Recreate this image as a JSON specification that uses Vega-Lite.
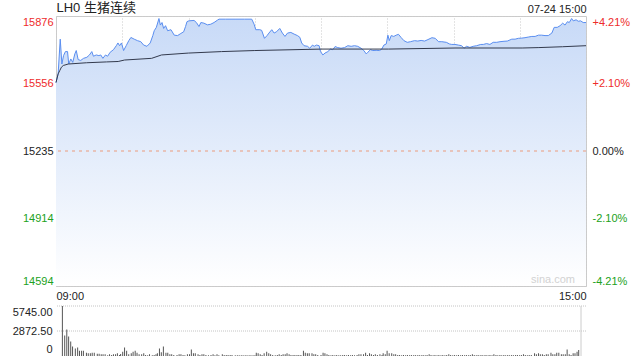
{
  "$schema": "https://vega.github.io/schema/vega-lite/v6.json",
  "background": "white",
  "padding": {"left": 12, "top": 0, "right": 0, "bottom": 0},
  "config": {
    "font": "Liberation Sans, Noto Sans CJK SC",
    "view": {"stroke": null},
    "axis": {"labelFont": "Liberation Sans, Noto Sans CJK SC", "labelFontSize": 11, "labelColor": "#222222", "ticks": false, "domain": false, "title": null, "labelOverlap": false}
  },
  "datasets": {
    "price": [
      {"t": 0, "p": 15560}, {"t": 0.9, "p": 15601}, {"t": 1.8, "p": 15766}, {"t": 2.5, "p": 15648}, {"t": 3.2, "p": 15688},
      {"t": 4.0, "p": 15707}, {"t": 4.9, "p": 15707}, {"t": 5.4, "p": 15648}, {"t": 6.3, "p": 15672}, {"t": 7.1, "p": 15656},
      {"t": 8.0, "p": 15696}, {"t": 8.6, "p": 15712}, {"t": 9.4, "p": 15669}, {"t": 10.5, "p": 15665}, {"t": 11.7, "p": 15675},
      {"t": 13.1, "p": 15680}, {"t": 14.2, "p": 15691}, {"t": 15.2, "p": 15707}, {"t": 15.9, "p": 15685}, {"t": 17.1, "p": 15691},
      {"t": 18.2, "p": 15688}, {"t": 19.0, "p": 15691}, {"t": 19.9, "p": 15675}, {"t": 21.0, "p": 15691}, {"t": 21.9, "p": 15685},
      {"t": 23.0, "p": 15704}, {"t": 24.4, "p": 15716}, {"t": 25.6, "p": 15735}, {"t": 26.3, "p": 15748}, {"t": 27.0, "p": 15735},
      {"t": 27.8, "p": 15748}, {"t": 28.7, "p": 15712}, {"t": 29.8, "p": 15735}, {"t": 30.9, "p": 15759}, {"t": 31.8, "p": 15774},
      {"t": 33.2, "p": 15766}, {"t": 34.6, "p": 15759}, {"t": 36.0, "p": 15754}, {"t": 37.2, "p": 15738}, {"t": 38.6, "p": 15732},
      {"t": 40.0, "p": 15748}, {"t": 41.1, "p": 15783}, {"t": 41.7, "p": 15806}, {"t": 42.6, "p": 15822}, {"t": 43.7, "p": 15864},
      {"t": 44.3, "p": 15833}, {"t": 45.0, "p": 15845}, {"t": 45.7, "p": 15817}, {"t": 46.5, "p": 15830}, {"t": 47.4, "p": 15806},
      {"t": 48.8, "p": 15811}, {"t": 50.2, "p": 15785}, {"t": 51.6, "p": 15783}, {"t": 53.0, "p": 15793}, {"t": 54.2, "p": 15801},
      {"t": 55.0, "p": 15826}, {"t": 55.6, "p": 15849}, {"t": 56.4, "p": 15853}, {"t": 58.6, "p": 15855}, {"t": 59.6, "p": 15845},
      {"t": 60.7, "p": 15826}, {"t": 61.5, "p": 15845}, {"t": 62.8, "p": 15842}, {"t": 64.3, "p": 15834}, {"t": 65.7, "p": 15837},
      {"t": 67.1, "p": 15845}, {"t": 68.5, "p": 15856}, {"t": 69.2, "p": 15861}, {"t": 72, "p": 15861}, {"t": 76, "p": 15861},
      {"t": 80, "p": 15861}, {"t": 83.1, "p": 15861}, {"t": 84.1, "p": 15837}, {"t": 84.8, "p": 15811}, {"t": 86.5, "p": 15811},
      {"t": 87.3, "p": 15808}, {"t": 88.5, "p": 15770}, {"t": 89.6, "p": 15783}, {"t": 90.4, "p": 15795}, {"t": 91.6, "p": 15811},
      {"t": 92.6, "p": 15795}, {"t": 93.6, "p": 15801}, {"t": 95.0, "p": 15817}, {"t": 96.1, "p": 15795}, {"t": 97.2, "p": 15779},
      {"t": 98.3, "p": 15795}, {"t": 99.7, "p": 15798}, {"t": 101.1, "p": 15790}, {"t": 102.5, "p": 15783}, {"t": 103.5, "p": 15775},
      {"t": 104.3, "p": 15748}, {"t": 105.3, "p": 15735}, {"t": 106.8, "p": 15732}, {"t": 107.7, "p": 15723}, {"t": 108.9, "p": 15738},
      {"t": 109.6, "p": 15732}, {"t": 110.6, "p": 15738}, {"t": 111.7, "p": 15735}, {"t": 112.3, "p": 15707}, {"t": 113.3, "p": 15691},
      {"t": 114.2, "p": 15700}, {"t": 115.4, "p": 15707}, {"t": 116.5, "p": 15719}, {"t": 117.5, "p": 15716}, {"t": 118.5, "p": 15731},
      {"t": 119.6, "p": 15726}, {"t": 121.0, "p": 15723}, {"t": 122.5, "p": 15726}, {"t": 123.9, "p": 15735}, {"t": 125.3, "p": 15732},
      {"t": 126.7, "p": 15735}, {"t": 128.1, "p": 15732}, {"t": 129.5, "p": 15723}, {"t": 130.7, "p": 15712}, {"t": 131.7, "p": 15696},
      {"t": 132.4, "p": 15704}, {"t": 133.5, "p": 15716}, {"t": 134.5, "p": 15712}, {"t": 135.9, "p": 15713}, {"t": 137.4, "p": 15712},
      {"t": 138.3, "p": 15719}, {"t": 139.2, "p": 15738}, {"t": 140.2, "p": 15743}, {"t": 140.9, "p": 15785}, {"t": 141.5, "p": 15759},
      {"t": 142.3, "p": 15783}, {"t": 143.4, "p": 15779}, {"t": 144.4, "p": 15785}, {"t": 145.4, "p": 15789}, {"t": 146.5, "p": 15774},
      {"t": 147.7, "p": 15759}, {"t": 149.1, "p": 15751}, {"t": 150.5, "p": 15754}, {"t": 152.2, "p": 15759}, {"t": 153.6, "p": 15757},
      {"t": 155.0, "p": 15760}, {"t": 156.5, "p": 15757}, {"t": 157.9, "p": 15764}, {"t": 159.6, "p": 15773}, {"t": 161.0, "p": 15770},
      {"t": 162.4, "p": 15754}, {"t": 163.8, "p": 15754}, {"t": 165.7, "p": 15751}, {"t": 167.1, "p": 15743}, {"t": 168.0, "p": 15741},
      {"t": 169.4, "p": 15741}, {"t": 170.8, "p": 15738}, {"t": 172.2, "p": 15735}, {"t": 173.2, "p": 15723}, {"t": 174.3, "p": 15732},
      {"t": 175.7, "p": 15727}, {"t": 177.1, "p": 15732}, {"t": 178.6, "p": 15735}, {"t": 180.3, "p": 15741}, {"t": 181.4, "p": 15741},
      {"t": 182.8, "p": 15745}, {"t": 184.2, "p": 15741}, {"t": 185.6, "p": 15751}, {"t": 187.1, "p": 15751}, {"t": 188.5, "p": 15754},
      {"t": 190.2, "p": 15756}, {"t": 191.6, "p": 15757}, {"t": 193.5, "p": 15766}, {"t": 194.9, "p": 15766}, {"t": 196.3, "p": 15770},
      {"t": 197.7, "p": 15771}, {"t": 199.1, "p": 15773}, {"t": 200.5, "p": 15776}, {"t": 202.0, "p": 15779}, {"t": 203.4, "p": 15779},
      {"t": 204.8, "p": 15785}, {"t": 206.2, "p": 15785}, {"t": 207.6, "p": 15783}, {"t": 209.0, "p": 15783}, {"t": 210.5, "p": 15795},
      {"t": 211.5, "p": 15822}, {"t": 212.8, "p": 15822}, {"t": 214.0, "p": 15830}, {"t": 215.1, "p": 15842}, {"t": 216.1, "p": 15833},
      {"t": 217.1, "p": 15849}, {"t": 217.9, "p": 15845}, {"t": 218.9, "p": 15864}, {"t": 219.6, "p": 15853}, {"t": 220.8, "p": 15858},
      {"t": 221.7, "p": 15851}, {"t": 222.7, "p": 15853}, {"t": 223.8, "p": 15845}, {"t": 225, "p": 15845}
    ],
    "avg": [
      {"t": 0, "a": 15560}, {"t": 0.9, "a": 15601}, {"t": 1.6, "a": 15617}, {"t": 2.3, "a": 15633}, {"t": 3.1, "a": 15641},
      {"t": 5.2, "a": 15648}, {"t": 13, "a": 15654}, {"t": 21.5, "a": 15658}, {"t": 26.4, "a": 15660}, {"t": 29.1, "a": 15667},
      {"t": 40.6, "a": 15675}, {"t": 44.8, "a": 15691}, {"t": 56.2, "a": 15700}, {"t": 70.3, "a": 15707}, {"t": 84.4, "a": 15712},
      {"t": 112.9, "a": 15719}, {"t": 141.2, "a": 15719}, {"t": 169.4, "a": 15724}, {"t": 197.9, "a": 15724}, {"t": 205, "a": 15726},
      {"t": 215, "a": 15730}, {"t": 225, "a": 15735}
    ],
    "volgrid": [{"g": 2872.5}, {"g": 5745}],
    "vol": [
      {"t": 0.6, "v": 5745}, {"t": 1.6, "v": 2352}, {"t": 2.5, "v": 3046}, {"t": 3.3, "v": 2236}, {"t": 4.2, "v": 1658},
      {"t": 5.0, "v": 1080}, {"t": 6.2, "v": 848}, {"t": 7.2, "v": 964}, {"t": 8.0, "v": 617}, {"t": 8.9, "v": 617},
      {"t": 9.7, "v": 617}, {"t": 11.0, "v": 386}, {"t": 11.8, "v": 308}, {"t": 12.7, "v": 308}, {"t": 13.5, "v": 386},
      {"t": 14.4, "v": 386}, {"t": 15.7, "v": 270}, {"t": 16.5, "v": 270}, {"t": 17.4, "v": 193}, {"t": 18.2, "v": 193},
      {"t": 19.1, "v": 193}, {"t": 20.2, "v": 77}, {"t": 21.0, "v": 193}, {"t": 21.9, "v": 116}, {"t": 22.7, "v": 193},
      {"t": 23.6, "v": 193}, {"t": 24.4, "v": 308}, {"t": 25.3, "v": 116}, {"t": 25.8, "v": 231}, {"t": 26.7, "v": 501},
      {"t": 27.5, "v": 964}, {"t": 28.4, "v": 617}, {"t": 29.3, "v": 193}, {"t": 30.4, "v": 308}, {"t": 31.2, "v": 501},
      {"t": 32.1, "v": 617}, {"t": 32.9, "v": 386}, {"t": 33.8, "v": 193}, {"t": 34.9, "v": 193}, {"t": 35.8, "v": 308},
      {"t": 36.6, "v": 116}, {"t": 37.5, "v": 77}, {"t": 38.3, "v": 193}, {"t": 39.5, "v": 77}, {"t": 40.3, "v": 116},
      {"t": 41.1, "v": 193}, {"t": 41.7, "v": 308}, {"t": 42.6, "v": 848}, {"t": 43.4, "v": 424}, {"t": 44.3, "v": 1080},
      {"t": 45.4, "v": 386}, {"t": 46.2, "v": 386}, {"t": 47.1, "v": 193}, {"t": 47.9, "v": 193}, {"t": 48.8, "v": 116},
      {"t": 50.2, "v": 116}, {"t": 51.1, "v": 193}, {"t": 51.9, "v": 193}, {"t": 52.8, "v": 116}, {"t": 53.6, "v": 77},
      {"t": 54.7, "v": 193}, {"t": 55.6, "v": 193}, {"t": 56.4, "v": 733}, {"t": 57.3, "v": 308}, {"t": 58.1, "v": 308},
      {"t": 59.3, "v": 193}, {"t": 60.1, "v": 116}, {"t": 61.0, "v": 193}, {"t": 61.8, "v": 193}, {"t": 62.7, "v": 116},
      {"t": 63.8, "v": 77}, {"t": 64.9, "v": 116}, {"t": 65.8, "v": 193}, {"t": 66.6, "v": 77}, {"t": 67.5, "v": 193},
      {"t": 68.3, "v": 77}, {"t": 69.8, "v": 193}, {"t": 70.6, "v": 116}, {"t": 71.5, "v": 116}, {"t": 72.3, "v": 116},
      {"t": 73.2, "v": 116}, {"t": 74.0, "v": 116}, {"t": 75.4, "v": 77}, {"t": 76.3, "v": 77}, {"t": 77.1, "v": 77},
      {"t": 78.0, "v": 77}, {"t": 78.8, "v": 77}, {"t": 79.7, "v": 77}, {"t": 80.5, "v": 77}, {"t": 81.4, "v": 77},
      {"t": 82.2, "v": 77}, {"t": 83.1, "v": 77}, {"t": 83.9, "v": 77}, {"t": 84.5, "v": 386}, {"t": 85.3, "v": 308},
      {"t": 86.2, "v": 193}, {"t": 87.0, "v": 116}, {"t": 87.9, "v": 308}, {"t": 89.0, "v": 501}, {"t": 89.9, "v": 308},
      {"t": 90.7, "v": 193}, {"t": 91.6, "v": 116}, {"t": 92.7, "v": 77}, {"t": 93.6, "v": 116}, {"t": 94.4, "v": 193},
      {"t": 95.3, "v": 116}, {"t": 96.1, "v": 193}, {"t": 97.0, "v": 193}, {"t": 97.8, "v": 308}, {"t": 98.7, "v": 193},
      {"t": 99.5, "v": 116}, {"t": 100.4, "v": 116}, {"t": 101.2, "v": 116}, {"t": 102.1, "v": 116}, {"t": 102.9, "v": 116},
      {"t": 103.8, "v": 116}, {"t": 104.9, "v": 617}, {"t": 105.7, "v": 386}, {"t": 106.6, "v": 308}, {"t": 107.4, "v": 308},
      {"t": 108.6, "v": 308}, {"t": 109.4, "v": 193}, {"t": 110.2, "v": 193}, {"t": 111.1, "v": 116},
      {"t": 112.5, "v": 116}, {"t": 113.4, "v": 386}, {"t": 114.2, "v": 308}, {"t": 115.1, "v": 193}, {"t": 115.9, "v": 116},
      {"t": 116.8, "v": 77}, {"t": 117.6, "v": 116}, {"t": 118.5, "v": 77}, {"t": 119.3, "v": 116}, {"t": 120.2, "v": 77},
      {"t": 121.0, "v": 77}, {"t": 121.9, "v": 116}, {"t": 122.7, "v": 116}, {"t": 123.6, "v": 77}, {"t": 124.4, "v": 116},
      {"t": 125.3, "v": 77}, {"t": 126.1, "v": 116}, {"t": 127.0, "v": 77}, {"t": 128.1, "v": 116}, {"t": 128.9, "v": 193},
      {"t": 129.8, "v": 193}, {"t": 130.9, "v": 193}, {"t": 131.8, "v": 386}, {"t": 132.6, "v": 116}, {"t": 133.5, "v": 308},
      {"t": 134.3, "v": 193}, {"t": 135.2, "v": 116}, {"t": 136.0, "v": 193}, {"t": 136.9, "v": 116}, {"t": 138.0, "v": 193},
      {"t": 138.9, "v": 116}, {"t": 139.4, "v": 308}, {"t": 140.3, "v": 193}, {"t": 141.1, "v": 617}, {"t": 142.0, "v": 308},
      {"t": 143.1, "v": 308}, {"t": 144.0, "v": 193}, {"t": 144.8, "v": 193}, {"t": 145.7, "v": 116}, {"t": 146.5, "v": 116},
      {"t": 147.4, "v": 77}, {"t": 148.2, "v": 116}, {"t": 149.1, "v": 77}, {"t": 149.9, "v": 116}, {"t": 150.8, "v": 77},
      {"t": 151.6, "v": 116}, {"t": 152.5, "v": 77}, {"t": 153.3, "v": 116}, {"t": 154.2, "v": 77}, {"t": 155.0, "v": 116},
      {"t": 155.9, "v": 77}, {"t": 156.7, "v": 116}, {"t": 157.6, "v": 77}, {"t": 158.4, "v": 116}, {"t": 159.3, "v": 193},
      {"t": 160.1, "v": 116}, {"t": 161.0, "v": 77}, {"t": 161.8, "v": 116}, {"t": 162.7, "v": 77}, {"t": 163.5, "v": 116},
      {"t": 164.4, "v": 77}, {"t": 165.2, "v": 116}, {"t": 166.1, "v": 77}, {"t": 166.9, "v": 116}, {"t": 167.8, "v": 193},
      {"t": 168.6, "v": 116}, {"t": 169.5, "v": 77}, {"t": 170.3, "v": 116}, {"t": 171.2, "v": 77}, {"t": 172.0, "v": 116},
      {"t": 172.9, "v": 77}, {"t": 173.7, "v": 116}, {"t": 174.6, "v": 77}, {"t": 175.4, "v": 116}, {"t": 176.3, "v": 77},
      {"t": 177.1, "v": 116}, {"t": 178.0, "v": 193}, {"t": 178.8, "v": 116}, {"t": 179.7, "v": 77}, {"t": 180.5, "v": 116},
      {"t": 181.4, "v": 77}, {"t": 182.2, "v": 116}, {"t": 183.1, "v": 77}, {"t": 183.9, "v": 116}, {"t": 184.8, "v": 77},
      {"t": 185.6, "v": 116}, {"t": 186.5, "v": 77}, {"t": 187.3, "v": 193}, {"t": 188.2, "v": 116}, {"t": 189.0, "v": 77},
      {"t": 189.9, "v": 116}, {"t": 190.7, "v": 77}, {"t": 191.6, "v": 116}, {"t": 192.4, "v": 77}, {"t": 193.3, "v": 116},
      {"t": 194.1, "v": 77}, {"t": 195.0, "v": 116}, {"t": 195.8, "v": 77}, {"t": 196.7, "v": 116}, {"t": 197.5, "v": 116},
      {"t": 198.4, "v": 77}, {"t": 199.2, "v": 116}, {"t": 200.1, "v": 193}, {"t": 200.9, "v": 116}, {"t": 201.8, "v": 77},
      {"t": 202.6, "v": 116}, {"t": 203.5, "v": 116}, {"t": 204.9, "v": 308}, {"t": 205.7, "v": 193}, {"t": 206.6, "v": 308},
      {"t": 207.4, "v": 193}, {"t": 208.3, "v": 193}, {"t": 209.1, "v": 116}, {"t": 210.0, "v": 193}, {"t": 210.8, "v": 193},
      {"t": 212.0, "v": 386}, {"t": 212.8, "v": 193}, {"t": 213.7, "v": 193}, {"t": 214.5, "v": 386}, {"t": 215.4, "v": 386},
      {"t": 216.5, "v": 193}, {"t": 217.3, "v": 193}, {"t": 218.2, "v": 193}, {"t": 219.0, "v": 733}, {"t": 219.9, "v": 193},
      {"t": 220.7, "v": 116}, {"t": 221.6, "v": 308}, {"t": 222.4, "v": 308}, {"t": 223.3, "v": 501}, {"t": 224.0, "v": 694}
    ]
  },
  "bounds": "flush",
  "spacing": 20,
  "vconcat": [
    {
      "width": 530,
      "height": 270,
      "view": {"stroke": "#cccccc"},
      "resolve": {"axis": {"x": "independent", "y": "independent"}},
      "layer": [
        {
          "data": {"name": "price"},
          "mark": {"type": "area", "opacity": 1, "color": {"gradient": "linear", "x1": 0, "y1": 0, "x2": 0, "y2": 1, "stops": [{"offset": 0, "color": "#c8daf7"}, {"offset": 1, "color": "#ffffff"}]}},
          "encoding": {
            "x": {"field": "t", "type": "quantitative", "scale": {"domain": [0, 225], "nice": false, "zero": false},
              "axis": {"orient": "top", "values": [0, 28.125, 56.25, 84.375, 112.5, 140.625, 168.75, 196.875, 225],
                "labelExpr": "datum.value == 0 ? 'LH0 生猪连续' : (datum.value == 225 ? '07-24 15:00' : '')",
                "labelFlush": true, "labelPadding": 2,
                "labelFontSize": {"condition": {"test": "datum.value == 0", "value": 13}, "value": 11},
                "grid": true, "gridColor": "#c8c8c8", "gridDash": [1, 2]}},
            "y": {"field": "p", "type": "quantitative", "scale": {"domain": [14594, 15876], "nice": false, "zero": false},
              "axis": {"orient": "left", "values": [14594, 14914, 15235, 15556, 15876], "format": "d", "labelFlush": true, "labelPadding": 3,
                "labelColor": {"condition": [{"test": "datum.value > 15300", "value": "#ee2b2b"}, {"test": "datum.value < 15200", "value": "#21a121"}], "value": "#222222"},
                "grid": true, "gridColor": "#c8c8c8", "gridDash": [1, 2]}},
            "y2": {"datum": 14594}
          }
        },
        {
          "data": {"values": [{"prev": 15235}]},
          "mark": {"type": "rule", "color": "#eb9b7d", "strokeDash": [3, 4], "strokeWidth": 1},
          "encoding": {"y": {"field": "prev", "type": "quantitative", "axis": null}}
        },
        {
          "data": {"name": "price"},
          "mark": {"type": "line", "color": "#5a8ef0", "strokeWidth": 1},
          "encoding": {
            "x": {"field": "t", "type": "quantitative",
              "axis": {"orient": "bottom", "values": [0, 225], "labelExpr": "datum.value == 0 ? '09:00' : '15:00'", "labelFlush": true, "labelPadding": 4, "grid": false}},
            "y": {"field": "p", "type": "quantitative",
              "axis": {"orient": "right", "values": [14594, 14914, 15235, 15556, 15876], "labelFlush": true, "labelPadding": 6, "grid": false,
                "labelExpr": "datum.value > 15800 ? '+4.21%' : (datum.value > 15500 ? '+2.10%' : (datum.value > 15200 ? '0.00%' : (datum.value > 14900 ? '-2.10%' : '-4.21%')))",
                "labelColor": {"condition": [{"test": "datum.value > 15300", "value": "#ee2b2b"}, {"test": "datum.value < 15200", "value": "#21a121"}], "value": "#222222"}}}
          }
        },
        {
          "data": {"name": "avg"},
          "mark": {"type": "line", "color": "#333a4d", "strokeWidth": 1},
          "encoding": {
            "x": {"field": "t", "type": "quantitative", "axis": null},
            "y": {"field": "a", "type": "quantitative", "axis": null}
          }
        },
        {
          "data": {"values": [{"label": "sina.com", "t": 225, "p": 14594}]},
          "mark": {"type": "text", "align": "right", "baseline": "alphabetic", "dx": -11, "dy": -3, "fontSize": 11, "color": "#d2d2d2", "font": "Liberation Sans"},
          "encoding": {
            "x": {"field": "t", "type": "quantitative", "axis": null},
            "y": {"field": "p", "type": "quantitative", "axis": null},
            "text": {"field": "label"}
          }
        }
      ]
    },
    {
      "width": 530,
      "height": 50,
      "resolve": {"axis": {"y": "independent"}},
      "layer": [
        {
          "data": {"name": "volgrid"},
          "mark": {"type": "rule", "color": "#c4c4c4", "strokeDash": [1, 1], "strokeWidth": 1},
          "encoding": {
            "y": {"field": "g", "type": "quantitative", "scale": {"domain": [0, 5745], "nice": false},
              "axis": {"values": [0, 2872.5, 5745], "format": ".2f", "labelExpr": "datum.value == 0 ? '0' : datum.label", "labelFlush": false, "labelBaseline": "middle", "labelPadding": 4, "labelOverlap": false, "grid": false,
                "labelOffset": {"condition": [{"test": "datum.value > 5000", "value": 6}, {"test": "datum.value < 100", "value": -7}], "value": 0}}}
          }
        },
        {
          "data": {"name": "vol"},
          "mark": {"type": "bar", "size": 1, "color": "#555555"},
          "encoding": {
            "x": {"field": "t", "type": "quantitative", "scale": {"domain": [0, 225], "nice": false, "zero": false}, "axis": null},
            "y": {"field": "v", "type": "quantitative", "axis": null}
          }
        },
        {
          "data": {"values": [{"t": 225, "lo": 0, "hi": 5745}]},
          "mark": {"type": "rule", "color": "#cccccc", "strokeWidth": 1},
          "encoding": {
            "x": {"field": "t", "type": "quantitative"},
            "y": {"field": "lo", "type": "quantitative", "axis": null},
            "y2": {"field": "hi"}
          }
        }
      ]
    }
  ]
}
